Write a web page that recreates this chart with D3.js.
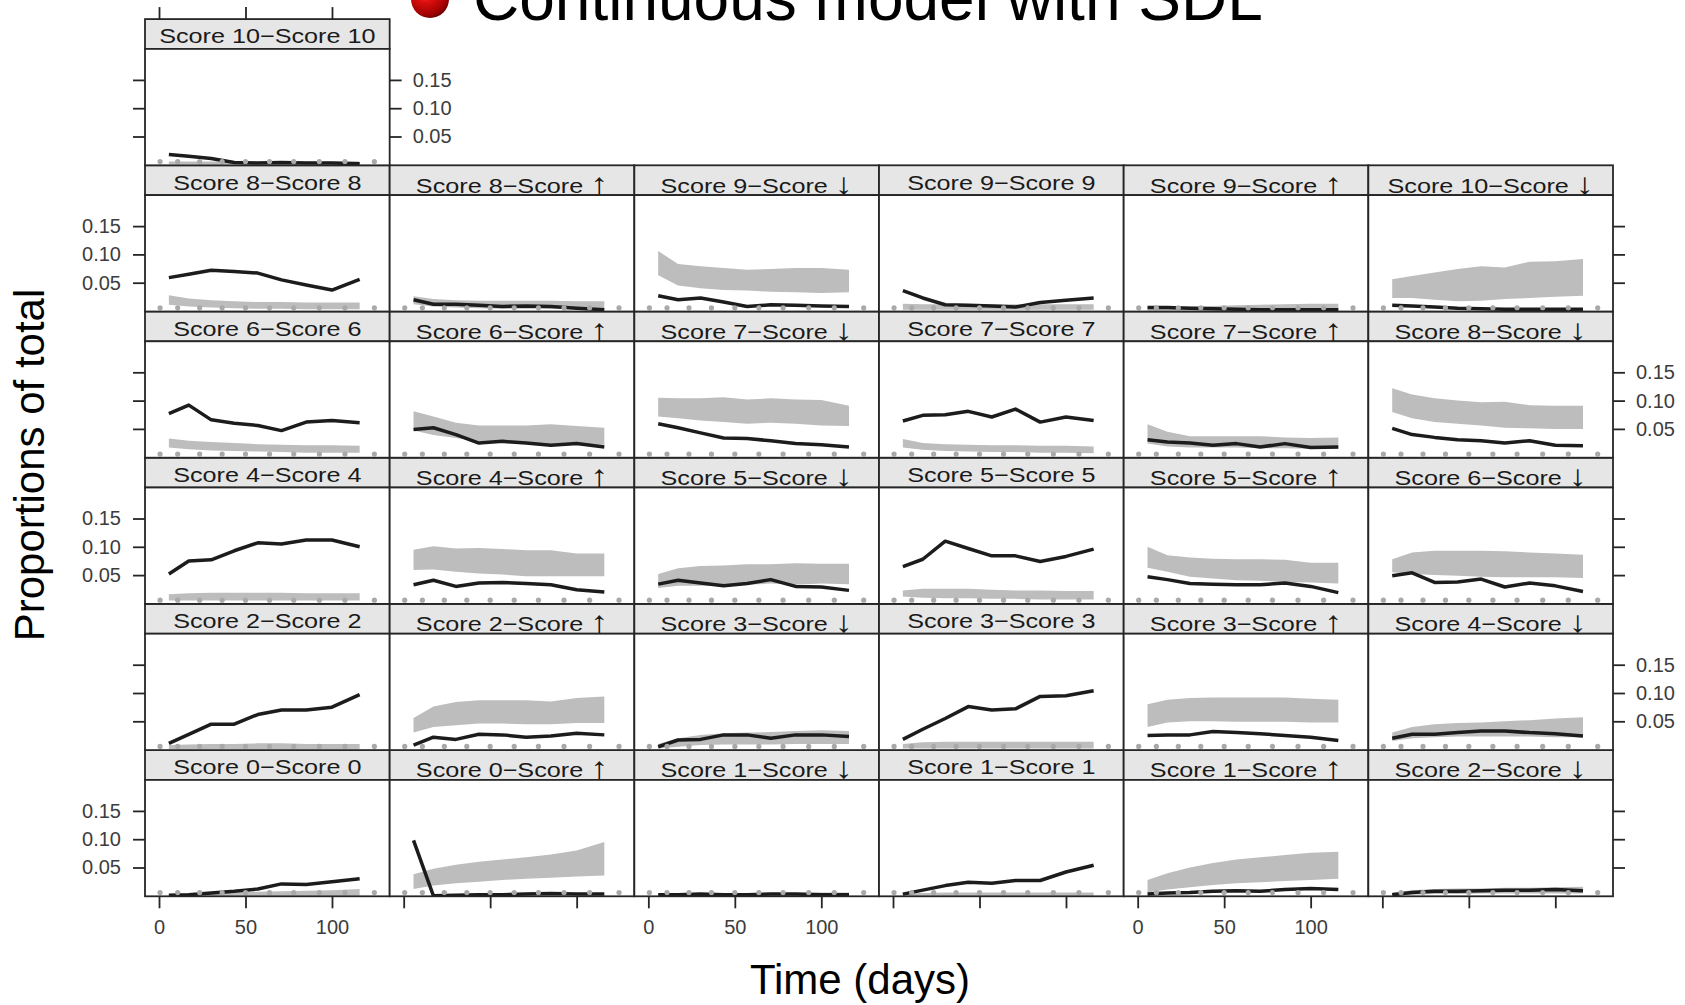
<!DOCTYPE html>
<html>
<head>
<meta charset="utf-8">
<script src="https://cdn.jsdelivr.net/npm/d3@7"></script>
<style>
  html, body { margin: 0; padding: 0; background: #fff; }
  svg { display: block; }
</style>
</head>
<body>
<svg id="chart" width="1685" height="1005"></svg>
<script>
// Panels in lattice order: bottom-left first, left to right, then upward.
const panelLabels = [
  "Score 0\u2212Score 0", "Score 0\u2212Score \u2191", "Score 1\u2212Score \u2193",
  "Score 1\u2212Score 1", "Score 1\u2212Score \u2191", "Score 2\u2212Score \u2193",
  "Score 2\u2212Score 2", "Score 2\u2212Score \u2191", "Score 3\u2212Score \u2193",
  "Score 3\u2212Score 3", "Score 3\u2212Score \u2191", "Score 4\u2212Score \u2193",
  "Score 4\u2212Score 4", "Score 4\u2212Score \u2191", "Score 5\u2212Score \u2193",
  "Score 5\u2212Score 5", "Score 5\u2212Score \u2191", "Score 6\u2212Score \u2193",
  "Score 6\u2212Score 6", "Score 6\u2212Score \u2191", "Score 7\u2212Score \u2193",
  "Score 7\u2212Score 7", "Score 7\u2212Score \u2191", "Score 8\u2212Score \u2193",
  "Score 8\u2212Score 8", "Score 8\u2212Score \u2191", "Score 9\u2212Score \u2193",
  "Score 9\u2212Score 9", "Score 9\u2212Score \u2191", "Score 10\u2212Score \u2193",
  "Score 10\u2212Score 10"
];

// Interval mid-times (days) at which proportions and model bands are shown
const timeDays = [5.7, 17.2, 30.2, 43.5, 57.1, 70.8, 85.1, 100, 116];
// Visit times (days), shown as dots along the bottom of every panel
const visitDays = [0.6, 10.8, 23.5, 36.5, 50, 63.9, 77.9, 92.7, 107.5, 124.5];

// Observed proportions of total, one row per panel
const observed = [
  [0.001, 0.002, 0.005, 0.008, 0.012, 0.021, 0.020, 0.025, 0.030],
  [0.098, 0.000, 0.001, 0.002, 0.002, 0.003, 0.004, 0.003, 0.003],
  [0.002, 0.002, 0.003, 0.002, 0.002, 0.003, 0.003, 0.002, 0.002],
  [0.003, 0.010, 0.018, 0.024, 0.022, 0.027, 0.027, 0.042, 0.054],
  [0.003, 0.005, 0.006, 0.008, 0.009, 0.008, 0.011, 0.013, 0.011],
  [0.002, 0.006, 0.008, 0.008, 0.009, 0.010, 0.010, 0.011, 0.009],
  [0.011, 0.027, 0.045, 0.045, 0.062, 0.070, 0.070, 0.075, 0.097],
  [0.008, 0.022, 0.018, 0.027, 0.026, 0.022, 0.024, 0.029, 0.026],
  [0.005, 0.017, 0.018, 0.026, 0.026, 0.020, 0.026, 0.026, 0.023],
  [0.018, 0.036, 0.055, 0.076, 0.070, 0.072, 0.094, 0.095, 0.104],
  [0.025, 0.026, 0.026, 0.032, 0.030, 0.028, 0.025, 0.022, 0.016],
  [0.020, 0.027, 0.027, 0.030, 0.033, 0.033, 0.030, 0.028, 0.024],
  [0.052, 0.075, 0.077, 0.093, 0.107, 0.105, 0.112, 0.112, 0.100],
  [0.033, 0.041, 0.030, 0.036, 0.037, 0.035, 0.033, 0.024, 0.020],
  [0.034, 0.041, 0.036, 0.031, 0.035, 0.042, 0.030, 0.029, 0.023],
  [0.065, 0.078, 0.110, 0.097, 0.084, 0.084, 0.074, 0.083, 0.096],
  [0.047, 0.042, 0.035, 0.034, 0.033, 0.033, 0.036, 0.030, 0.019],
  [0.049, 0.054, 0.037, 0.038, 0.043, 0.029, 0.036, 0.031, 0.021],
  [0.077, 0.092, 0.066, 0.060, 0.056, 0.047, 0.062, 0.065, 0.061],
  [0.049, 0.052, 0.040, 0.025, 0.028, 0.025, 0.021, 0.024, 0.018],
  [0.059, 0.052, 0.043, 0.034, 0.033, 0.029, 0.024, 0.022, 0.018],
  [0.064, 0.074, 0.075, 0.081, 0.071, 0.085, 0.062, 0.071, 0.065],
  [0.031, 0.027, 0.025, 0.021, 0.024, 0.018, 0.024, 0.017, 0.018],
  [0.051, 0.040, 0.035, 0.031, 0.029, 0.025, 0.029, 0.021, 0.020],
  [0.059, 0.065, 0.072, 0.070, 0.067, 0.055, 0.046, 0.037, 0.056],
  [0.020, 0.012, 0.012, 0.010, 0.008, 0.009, 0.008, 0.005, 0.002],
  [0.027, 0.020, 0.023, 0.016, 0.008, 0.011, 0.010, 0.009, 0.008],
  [0.036, 0.023, 0.011, 0.010, 0.009, 0.007, 0.015, 0.019, 0.023],
  [0.006, 0.006, 0.005, 0.004, 0.003, 0.002, 0.002, 0.002, 0.002],
  [0.010, 0.009, 0.007, 0.005, 0.004, 0.003, 0.003, 0.003, 0.003],
  [0.018, 0.015, 0.011, 0.004, 0.003, 0.004, 0.003, 0.003, 0.002]
];

// Model prediction band: lower limits
const bandLow = [
  [0.000, 0.000, 0.000, 0.000, 0.000, 0.000, 0.000, 0.000, 0.000],
  [0.012, 0.018, 0.022, 0.025, 0.028, 0.030, 0.032, 0.034, 0.036],
  [0.000, 0.000, 0.000, 0.000, 0.000, 0.000, 0.000, 0.000, 0.000],
  [0.000, 0.000, 0.000, 0.000, 0.000, 0.000, 0.000, 0.000, 0.000],
  [0.006, 0.011, 0.015, 0.019, 0.022, 0.024, 0.026, 0.028, 0.030],
  [0.001, 0.002, 0.003, 0.003, 0.004, 0.004, 0.004, 0.004, 0.004],
  [0.001, 0.001, 0.001, 0.001, 0.001, 0.001, 0.001, 0.001, 0.001],
  [0.030, 0.040, 0.043, 0.046, 0.046, 0.045, 0.045, 0.047, 0.047],
  [0.002, 0.005, 0.008, 0.009, 0.009, 0.009, 0.010, 0.010, 0.010],
  [0.002, 0.002, 0.002, 0.002, 0.002, 0.002, 0.002, 0.002, 0.002],
  [0.040, 0.048, 0.050, 0.050, 0.049, 0.049, 0.049, 0.048, 0.048],
  [0.015, 0.020, 0.022, 0.023, 0.023, 0.023, 0.023, 0.022, 0.022],
  [0.005, 0.005, 0.005, 0.005, 0.005, 0.005, 0.005, 0.005, 0.005],
  [0.059, 0.060, 0.056, 0.053, 0.051, 0.048, 0.048, 0.048, 0.048],
  [0.027, 0.031, 0.031, 0.031, 0.033, 0.035, 0.033, 0.035, 0.034],
  [0.012, 0.010, 0.009, 0.009, 0.008, 0.008, 0.007, 0.007, 0.007],
  [0.063, 0.056, 0.047, 0.044, 0.041, 0.040, 0.038, 0.037, 0.035],
  [0.055, 0.052, 0.050, 0.049, 0.047, 0.046, 0.046, 0.046, 0.045],
  [0.017, 0.014, 0.012, 0.011, 0.010, 0.009, 0.008, 0.008, 0.008],
  [0.047, 0.039, 0.034, 0.028, 0.025, 0.024, 0.022, 0.022, 0.022],
  [0.072, 0.069, 0.065, 0.062, 0.059, 0.061, 0.059, 0.056, 0.055],
  [0.017, 0.013, 0.011, 0.010, 0.009, 0.009, 0.008, 0.008, 0.007],
  [0.024, 0.019, 0.017, 0.017, 0.017, 0.016, 0.016, 0.015, 0.015],
  [0.080, 0.069, 0.062, 0.059, 0.056, 0.052, 0.051, 0.050, 0.050],
  [0.011, 0.008, 0.006, 0.005, 0.004, 0.004, 0.003, 0.003, 0.003],
  [0.012, 0.008, 0.006, 0.005, 0.004, 0.004, 0.004, 0.003, 0.003],
  [0.063, 0.045, 0.040, 0.037, 0.036, 0.034, 0.033, 0.032, 0.033],
  [0.002, 0.002, 0.002, 0.002, 0.002, 0.002, 0.002, 0.002, 0.002],
  [0.001, 0.001, 0.001, 0.001, 0.001, 0.001, 0.001, 0.001, 0.001],
  [0.023, 0.023, 0.020, 0.017, 0.018, 0.021, 0.023, 0.025, 0.027],
  [0.001, 0.001, 0.001, 0.001, 0.001, 0.001, 0.001, 0.001, 0.001]
];

// Model prediction band: upper limits
const bandHigh = [
  [0.003, 0.004, 0.005, 0.006, 0.007, 0.008, 0.009, 0.010, 0.012],
  [0.038, 0.048, 0.055, 0.060, 0.064, 0.068, 0.073, 0.080, 0.095],
  [0.003, 0.004, 0.004, 0.005, 0.005, 0.005, 0.005, 0.006, 0.006],
  [0.004, 0.005, 0.006, 0.006, 0.006, 0.006, 0.006, 0.006, 0.006],
  [0.028, 0.040, 0.050, 0.058, 0.064, 0.068, 0.072, 0.076, 0.078],
  [0.006, 0.010, 0.012, 0.013, 0.013, 0.014, 0.014, 0.015, 0.016],
  [0.008, 0.009, 0.010, 0.010, 0.011, 0.011, 0.010, 0.010, 0.010],
  [0.056, 0.076, 0.084, 0.087, 0.087, 0.087, 0.085, 0.091, 0.094],
  [0.010, 0.020, 0.026, 0.029, 0.030, 0.031, 0.033, 0.034, 0.033],
  [0.010, 0.013, 0.014, 0.014, 0.014, 0.014, 0.014, 0.014, 0.014],
  [0.080, 0.088, 0.091, 0.092, 0.092, 0.092, 0.092, 0.090, 0.088],
  [0.030, 0.040, 0.045, 0.047, 0.048, 0.050, 0.052, 0.055, 0.057],
  [0.016, 0.018, 0.019, 0.019, 0.019, 0.019, 0.018, 0.018, 0.018],
  [0.095, 0.101, 0.097, 0.098, 0.096, 0.094, 0.094, 0.088, 0.088],
  [0.052, 0.062, 0.066, 0.067, 0.069, 0.069, 0.071, 0.070, 0.070],
  [0.023, 0.026, 0.026, 0.026, 0.024, 0.023, 0.023, 0.022, 0.022],
  [0.100, 0.085, 0.081, 0.079, 0.078, 0.078, 0.077, 0.072, 0.072],
  [0.078, 0.090, 0.093, 0.093, 0.093, 0.092, 0.090, 0.088, 0.086],
  [0.033, 0.029, 0.027, 0.025, 0.023, 0.022, 0.021, 0.021, 0.020],
  [0.081, 0.072, 0.061, 0.056, 0.056, 0.056, 0.058, 0.055, 0.052],
  [0.105, 0.104, 0.104, 0.106, 0.102, 0.104, 0.102, 0.101, 0.091],
  [0.032, 0.025, 0.023, 0.022, 0.021, 0.021, 0.020, 0.020, 0.019],
  [0.058, 0.045, 0.037, 0.037, 0.037, 0.037, 0.035, 0.034, 0.035],
  [0.122, 0.111, 0.104, 0.100, 0.097, 0.098, 0.092, 0.091, 0.091],
  [0.028, 0.022, 0.019, 0.017, 0.016, 0.016, 0.015, 0.015, 0.015],
  [0.026, 0.021, 0.019, 0.018, 0.018, 0.018, 0.018, 0.017, 0.017],
  [0.106, 0.083, 0.079, 0.076, 0.073, 0.074, 0.076, 0.076, 0.073],
  [0.013, 0.012, 0.012, 0.012, 0.012, 0.012, 0.012, 0.012, 0.012],
  [0.008, 0.008, 0.008, 0.009, 0.010, 0.011, 0.012, 0.013, 0.013],
  [0.056, 0.062, 0.068, 0.074, 0.079, 0.077, 0.087, 0.088, 0.092],
  [0.006, 0.006, 0.006, 0.006, 0.006, 0.006, 0.006, 0.006, 0.006]
];

const yTickValues = [0.05, 0.10, 0.15];
const xTickValues = [0, 50, 100];

const titleText = "Continuous model with SDL";
const yTitle = "Proportions of total";
const xTitle = "Time (days)";

// ---- layout ----
const nCols = 6;
const gridLeft = 145, gridRight = 1613;
const colW = (gridRight - gridLeft) / nCols;
const firstStripTop = 19.1, rowPitch = 146.2, stripH = 29.8;
const panelH = rowPitch - stripH;
const nRows = Math.ceil(panelLabels.length / nCols);
const tickLen = 12;

const latticeFont = "'Liberation Sans', Arial, Helvetica, sans-serif";
const ink = "#262626";

const x = d3.scaleLinear().domain([-8.1, 133.35]).range([0, colW]);
const y = d3.scaleLinear().domain([-0.0009, 0.2048]).range([panelH, 0]);

const svg = d3.select("#chart");

const defs = svg.append("defs");
defs.append("clipPath").attr("id", "panel-clip")
  .append("rect").attr("x", 0).attr("y", 0).attr("width", colW).attr("height", panelH);

const grad = defs.append("radialGradient").attr("id", "bullet-grad")
  .attr("cx", "0.38").attr("cy", "0.32").attr("r", "0.7");
grad.append("stop").attr("offset", "0").attr("stop-color", "#ff8a80");
grad.append("stop").attr("offset", "0.35").attr("stop-color", "#e01010");
grad.append("stop").attr("offset", "0.85").attr("stop-color", "#a00000");
grad.append("stop").attr("offset", "1").attr("stop-color", "#700000");

// Position of each panel (column, row counted from top)
function panelPos(i) {
  const col = i % nCols;
  const rowFromBottom = Math.floor(i / nCols);
  const rowFromTop = nRows - 1 - rowFromBottom;
  const left = gridLeft + col * colW;
  const stripTop = firstStripTop + rowFromTop * rowPitch;
  return { col, rowFromBottom, left, stripTop, top: stripTop + stripH };
}

const area = d3.area()
  .x((d, k) => x(timeDays[k]))
  .y0(d => y(d[0]))
  .y1(d => y(d[1]));
const line = d3.line()
  .x((d, k) => x(timeDays[k]))
  .y(d => y(d));

panelLabels.forEach((label, i) => {
  const p = panelPos(i);

  // strip
  svg.append("rect")
    .attr("x", p.left).attr("y", p.stripTop)
    .attr("width", colW).attr("height", stripH)
    .attr("fill", "#e6e6e6").attr("stroke", ink).attr("stroke-width", 1.8);

  const arrowMatch = label.match(/[\u2191\u2193]$/);
  const txt = svg.append("text")
    .attr("transform", `translate(${p.left + colW / 2},${p.stripTop + stripH - (arrowMatch ? 2.6 : 5.6)}) scale(1.2,1)`)
    .attr("text-anchor", "middle")
    .attr("font-family", latticeFont)
    .attr("font-size", 21)
    .attr("fill", "#1a1a1a");
  if (arrowMatch) {
    txt.append("tspan").text(label.slice(0, -1));
    txt.append("tspan")
      .attr("font-size", 30)
      .attr("dy", 1)
      .text(arrowMatch[0]);
  } else {
    txt.text(label);
  }

  // panel contents
  const g = svg.append("g").attr("transform", `translate(${p.left},${p.top})`);
  g.append("rect").attr("width", colW).attr("height", panelH).attr("fill", "#fff");
  const inner = g.append("g").attr("clip-path", "url(#panel-clip)");

  const bandPairs = bandLow[i].map((lo, k) => [lo, bandHigh[i][k]]);
  inner.append("path")
    .attr("d", area(bandPairs))
    .attr("fill", "#bdbdbd");

  inner.append("path")
    .attr("d", line(observed[i]))
    .attr("fill", "none")
    .attr("stroke", "#1c1c1c")
    .attr("stroke-width", 3.5)
    .attr("stroke-linejoin", "round");

  inner.selectAll("circle.visit")
    .data(visitDays)
    .join("circle")
    .attr("class", "visit")
    .attr("cx", d => x(d))
    .attr("cy", y(0) - 3.2)
    .attr("r", 2.6)
    .attr("fill", "#a9a9a9");

  g.append("rect").attr("width", colW).attr("height", panelH)
    .attr("fill", "none").attr("stroke", ink).attr("stroke-width", 1.8);
});

// ---- axes ----
function styleAxis(sel) {
  sel.select(".domain").remove();
  sel.selectAll(".tick line").attr("stroke", ink).attr("stroke-width", 1.8);
  sel.selectAll(".tick text")
    .attr("font-family", latticeFont)
    .attr("font-size", 20)
    .attr("fill", "#3c3c3c");
}
const fmtY = d3.format(".2f");

for (let r = 0; r < nRows; r++) {
  // panels in this row (counted from the bottom)
  const idx = d3.range(r * nCols, Math.min((r + 1) * nCols, panelLabels.length));
  const first = panelPos(idx[0]);
  const last = panelPos(idx[idx.length - 1]);
  const labelLeft = r % 2 === 0;

  svg.append("g")
    .attr("transform", `translate(${first.left},${first.top})`)
    .call(d3.axisLeft(y).tickValues(yTickValues).tickSize(tickLen).tickPadding(12)
      .tickFormat(labelLeft ? fmtY : () => ""))
    .call(styleAxis);

  svg.append("g")
    .attr("transform", `translate(${last.left + colW},${last.top})`)
    .call(d3.axisRight(y).tickValues(yTickValues).tickSize(tickLen).tickPadding(11)
      .tickFormat(labelLeft ? () => "" : fmtY))
    .call(styleAxis);
}

for (let c = 0; c < nCols; c++) {
  const bottom = panelPos(c);
  svg.append("g")
    .attr("transform", `translate(${bottom.left},${bottom.top + panelH})`)
    .call(d3.axisBottom(x).tickValues(xTickValues).tickSize(tickLen).tickPadding(12)
      .tickFormat(c % 2 === 0 ? d3.format("d") : () => ""))
    .call(styleAxis);
}

// top axis only above the uppermost row that holds panels
{
  const topIdx = d3.range(panelLabels.length).filter(i => Math.floor(i / nCols) === nRows - 1);
  topIdx.forEach(i => {
    const p = panelPos(i);
    svg.append("g")
      .attr("transform", `translate(${p.left},${p.stripTop})`)
      .call(d3.axisTop(x).tickValues(xTickValues).tickSize(tickLen)
        .tickFormat(p.col % 2 === 0 ? () => "" : d3.format("d")))
      .call(styleAxis);
  });
}

// ---- titles ----
svg.append("circle")
  .attr("cx", 430).attr("cy", -1).attr("r", 19)
  .attr("fill", "url(#bullet-grad)");

svg.append("text")
  .attr("x", 473).attr("y", 20)
  .attr("font-family", "'Liberation Sans', Arial, sans-serif")
  .attr("font-size", 64)
  .attr("fill", "#000")
  .text(titleText);

svg.append("text")
  .attr("transform", "translate(44,465) rotate(-90)")
  .attr("text-anchor", "middle")
  .attr("font-family", "'Liberation Sans', Arial, sans-serif")
  .attr("font-size", 42)
  .attr("fill", "#000")
  .text(yTitle);

svg.append("text")
  .attr("x", 860).attr("y", 994)
  .attr("text-anchor", "middle")
  .attr("font-family", "'Liberation Sans', Arial, sans-serif")
  .attr("font-size", 42)
  .attr("fill", "#000")
  .text(xTitle);
</script>
</body>
</html>
